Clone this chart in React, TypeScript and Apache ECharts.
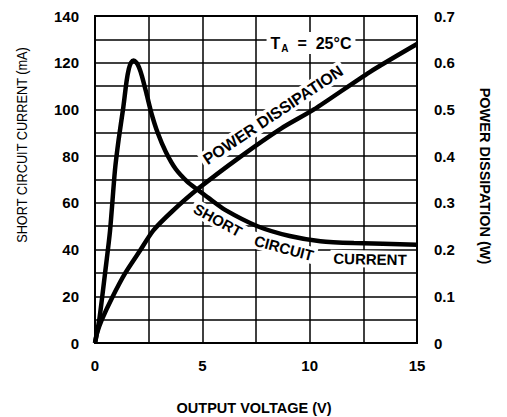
import React, { useEffect, useRef } from "react";
import * as echarts from "echarts";

// Short circuit current (left axis, mA) vs output voltage (V)
const scVoltage = [0, 0.2, 0.47, 0.7, 0.93, 1.1, 1.32, 1.47, 1.58, 1.68, 1.8, 1.93, 2.05, 2.18, 2.38, 2.61, 2.92, 3.3, 3.76, 4.31, 4.77, 5.3, 6.06, 7.57, 9.07, 10.5, 12.06, 15];
const scCurrent = [0, 10, 30, 48, 74, 87, 101, 112, 117.5, 120, 121, 120, 118, 114.5, 107.5, 99, 90, 81.8, 74.5, 69, 65.7, 62, 57, 50, 45.8, 43.6, 42.8, 42.1];

// Power dissipation (right axis, W) vs output voltage (V)
const pdVoltage = [0, 0.1, 0.31, 0.82, 1.4, 2.1, 2.72, 3.6, 4.8, 6.75, 8.7, 10.2, 12.8, 15];
const pdWatts = [0, 0.022, 0.049, 0.099, 0.149, 0.198, 0.241, 0.282, 0.33, 0.398, 0.46, 0.5, 0.58, 0.64];

const xTickLabels = [0, 5, 10, 15];
const leftTickLabels = [0, 20, 40, 60, 80, 100, 120, 140];
const rightTickLabels = [0, 0.1, 0.2, 0.3, 0.4, 0.5, 0.6, 0.7];

const FONT = "'Liberation Sans', Arial, sans-serif";

export default function App() {
  const ref = useRef<HTMLDivElement>(null);
  useEffect(() => {
    if (!ref.current) return;
    const chart = echarts.init(ref.current, undefined, { renderer: "svg" });
    const labelStyle = { color: "#000", fontFamily: FONT, fontWeight: "bold" as const, fontSize: 15 };
    const curveLabel = (text: string, x: number, y: number, rotation: number, size: number) => ({
      type: "text", x, y, rotation, z: 10,
      style: {
        text, fill: "#000", font: `bold ${size}px ${FONT}`, align: "center", verticalAlign: "middle",
        backgroundColor: "#fff", padding: [1, 3],
      },
    });
    chart.setOption({
      animation: false,
      backgroundColor: "#fff",
      grid: { left: 95, right: 90, top: 16, bottom: 74, show: true, borderColor: "#000", borderWidth: 2, backgroundColor: "transparent" },
      xAxis: {
        type: "value", min: 0, max: 15, interval: 2.5,
        axisLine: { show: true, lineStyle: { color: "#000", width: 2 } },
        axisTick: { show: false },
        splitLine: { show: true, lineStyle: { color: "#000", width: 1.5 } },
        axisLabel: {
          ...labelStyle, margin: 15,
          formatter: (v: number) => (xTickLabels.includes(v) ? String(v) : ""),
        },
      },
      yAxis: [
        {
          type: "value", min: 0, max: 140, interval: 10,
          axisLine: { show: true, lineStyle: { color: "#000", width: 2 } },
          axisTick: { show: false },
          splitLine: { show: true, lineStyle: { color: "#000", width: 1.5 } },
          axisLabel: {
            ...labelStyle, margin: 16,
            formatter: (v: number) => (leftTickLabels.includes(v) ? String(v) : ""),
          },
        },
        {
          type: "value", min: 0, max: 0.7, interval: 0.1, position: "right",
          axisLine: { show: true, lineStyle: { color: "#000", width: 2 } },
          axisTick: { show: false },
          splitLine: { show: false },
          axisLabel: {
            ...labelStyle, margin: 17,
            formatter: (v: number) => {
              const r = Math.round(v * 10) / 10;
              if (!rightTickLabels.includes(r)) return "";
              return r === 0 ? "0" : r.toFixed(1);
            },
          },
        },
      ],
      series: [
        {
          type: "line", yAxisIndex: 0, showSymbol: false, smooth: 0.25,
          lineStyle: { color: "#000", width: 4.5 },
          data: scVoltage.map((v, i) => [v, scCurrent[i]]),
          z: 5,
        },
        {
          type: "line", yAxisIndex: 1, showSymbol: false, smooth: 0.25,
          lineStyle: { color: "#000", width: 4.5 },
          data: pdVoltage.map((v, i) => [v, pdWatts[i]]),
          z: 5,
        },
      ],
      graphic: [
        {
          type: "text", x: 22, y: 145, rotation: Math.PI / 2, scaleX: 0.91, z: 10,
          style: { text: "SHORT CIRCUIT CURRENT (mA)", fill: "#000", font: `14px ${FONT}`, align: "center", verticalAlign: "middle" },
        },
        {
          type: "text", x: 485, y: 176, rotation: -Math.PI / 2, z: 10,
          style: { text: "POWER DISSIPATION (W)", fill: "#000", font: `bold 14.5px ${FONT}`, align: "center", verticalAlign: "middle" },
        },
        {
          type: "text", x: 254, y: 408, z: 10,
          style: { text: "OUTPUT VOLTAGE (V)", fill: "#000", font: `bold 14.5px ${FONT}`, align: "center", verticalAlign: "middle" },
        },
        curveLabel("POWER DISSIPATION", 273, 115, 0.59, 16),
        curveLabel("SHORT", 218, 220, -0.5, 15),
        curveLabel("CIRCUIT", 284, 248, -0.26, 15),
        curveLabel("CURRENT", 370, 259, -0.02, 15),
        {
          type: "text", x: 311, y: 43, z: 10,
          style: {
            text: "{t|T}{s|A}{t|  =  25°C}",
            align: "center", verticalAlign: "middle",
            backgroundColor: "#fff", padding: [1, 4],
            rich: {
              t: { fill: "#000", font: `bold 16px ${FONT}`, lineHeight: 20, verticalAlign: "middle" },
              s: { fill: "#000", font: `bold 10px ${FONT}`, lineHeight: 20, verticalAlign: "bottom", padding: [7, 0, 0, 1] },
            },
          },
        },
      ],
    });
    return () => chart.dispose();
  }, []);
  return <div ref={ref} style={{ width: 507, height: 417, position: "absolute", left: 0, top: 0 }} />;
}
